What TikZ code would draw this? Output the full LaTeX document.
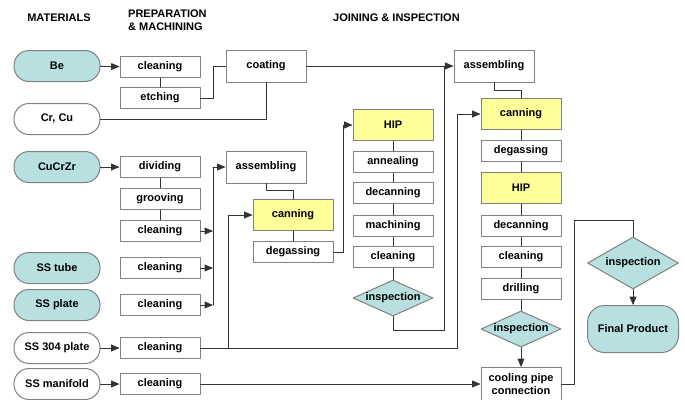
\documentclass[tikz,border=0pt]{standalone}
\usepackage{fontspec}
\setmainfont{Liberation Sans}
\usepackage{tikz}
\usetikzlibrary{arrows}
\usetikzlibrary{shapes.geometric}
\definecolor{bbddee}{rgb}{0.72,0.88,0.88}
\definecolor{ffff99}{rgb}{1.,1.,0.6}
\definecolor{gggggg}{rgb}{0.5,0.5,0.5}
\definecolor{qqqqqq}{rgb}{0.2,0.2,0.2}
\tikzset{
  every node/.style={font=\fontsize{11}{13}\selectfont\bfseries},
  box/.style={rectangle,draw=gggggg,line width=1pt,fill=white,minimum width=80,minimum height=21,inner sep=0pt},
  hbox/.style={box,fill=ffff99,minimum height=31},
  pill/.style={rectangle,rounded corners=15,draw=gggggg,line width=1pt,fill=white,minimum width=86,minimum height=31,inner sep=0pt},
  cpill/.style={pill,fill=bbddee},
  dia/.style={diamond,draw=gggggg,line width=1pt,fill=bbddee,inner sep=0pt,minimum width=80,minimum height=36},
  ln/.style={line width=0.9pt,color=qqqqqq},
  arr/.style={ln,->}
}

\begin{document}
\begin{tikzpicture}[line cap=round,line join=round,>=triangle 45,x=1pt,y=-1pt]
\useasboundingbox (0,0) rectangle (685,399);
% headers
\node (hmat) at (59,18) {MATERIALS};
\node[anchor=west,align=left,inner sep=0pt] (hprep) at (128,20) {PREPARATION\\\& MACHINING};
\node[anchor=west,inner sep=0pt] (hjoin) at (333,18) {JOINING \& INSPECTION};
% materials
\node[cpill] (be) at (57,66) {Be};
\node[pill] (crcu) at (57,119) {Cr, Cu};
\node[cpill] (cucrzr) at (57,167) {CuCrZr};
\node[cpill] (sstube) at (57,268) {SS tube};
\node[cpill] (ssplate) at (57,305) {SS plate};
\node[pill] (ssthree) at (57,348) {SS 304 plate};
\node[pill] (ssman) at (57,384) {SS manifold};
% preparation
\node[box] (clnA) at (160,67) {cleaning};
\node[box] (etch) at (160,98) {etching};
\node[box] (divid) at (160,167) {dividing};
\node[box] (groov) at (160,199) {grooving};
\node[box] (clnB) at (160,231) {cleaning};
\node[box] (clnC) at (160,268) {cleaning};
\node[box] (clnD) at (160,305) {cleaning};
\node[box] (clnE) at (160,348) {cleaning};
\node[box] (clnF) at (160,384) {cleaning};
% joining, first part
\node[box,minimum height=32] (coat) at (266,66) {coating};
\node[box,minimum height=32] (asmA) at (266,167) {assembling};
\node[hbox] (canA) at (293,215) {canning};
\node[box] (degA) at (293,252) {degassing};
\node[hbox] (hipA) at (393,125) {HIP};
\node[box] (anneal) at (393,162) {annealing};
\node[box] (decanA) at (393,193) {decanning};
\node[box] (mach) at (393,226) {machining};
\node[box] (clnG) at (393,257) {cleaning};
\node[dia] (inspA) at (393,298) {\makebox[0pt]{inspection}};
% joining, second part
\node[box,minimum height=32] (asmB) at (494,66) {assembling};
\node[hbox] (canB) at (521,114) {canning};
\node[box] (degB) at (521,151) {degassing};
\node[hbox] (hipB) at (521,188) {HIP};
\node[box] (decanB) at (521,226) {decanning};
\node[box] (clnH) at (521,257) {cleaning};
\node[box] (drill) at (521,289) {drilling};
\node[dia] (inspB) at (521,329) {\makebox[0pt]{inspection}};
\node[box,minimum height=33,align=center] (pipe) at (521,384) {cooling pipe\\connection};
\node[dia,minimum width=91,minimum height=52] (inspC) at (633,263) {\makebox[0pt]{inspection}};
\node[cpill,rounded corners=17,minimum width=91,minimum height=47] (final) at (633,329) {Final Product};
% junctions
\coordinate (jA) at (213,167);
\coordinate (jB) at (444,66);
\coordinate (jC) at (457,348);
\coordinate (jD) at (228,348);
\coordinate (jE) at (633,220);
% connectors
\draw [arr] (be) -- (clnA);
\draw [ln] (clnA) -- (etch);
\draw [ln] (etch.east) -- ++(13,0) |- (coat.west);
\draw [ln] (crcu.east) -| (coat.south);
\draw [arr] (coat.east) -- (asmB.west);
\draw [arr] (cucrzr) -- (divid);
\draw [ln] (divid) -- (groov) -- (clnB);
\draw [arr] (clnB.east) -- (clnB.east -| jA);
\draw [arr] (clnC.east) -- (clnC.east -| jA);
\draw [arr] (clnD.east) -- (clnD.east -| jA);
\draw [ln] (clnD.east -| jA) -- (jA);
\draw [arr] (jA) -- (asmA.west);
\draw [ln] (asmA.south) -- ++(0,7) -| (canA.north);
\draw [ln] (canA) -- (degA);
\draw [arr] (degA.east) -- ++(10,0) |- (hipA.west);
\draw [ln] (hipA) -- (anneal) -- (decanA) -- (mach) -- (clnG) -- (inspA);
\draw [ln] (inspA.south) -- ++(0,14) -| (jB);
\draw [arr] (ssthree) -- (clnE);
\draw [arr] (clnE.east) -- (jC) |- (canB.west);
\draw [arr] (jD) |- (canA.west);
\draw [arr] (ssman) -- (clnF);
\draw [arr] (clnF.east) -- (pipe.west);
\draw [ln] (asmB.south) -- ++(0,8) -| (canB.north);
\draw [ln] (canB) -- (degB) -- (hipB) -- (decanB) -- (clnH) -- (drill) -- (inspB);
\draw [arr] (inspB) -- (pipe);
\draw [ln] (pipe.east) -- ++(13,0) |- (jE) -- (inspC.north);
\draw [arr] (inspC) -- (final);
\end{tikzpicture}
\end{document}
